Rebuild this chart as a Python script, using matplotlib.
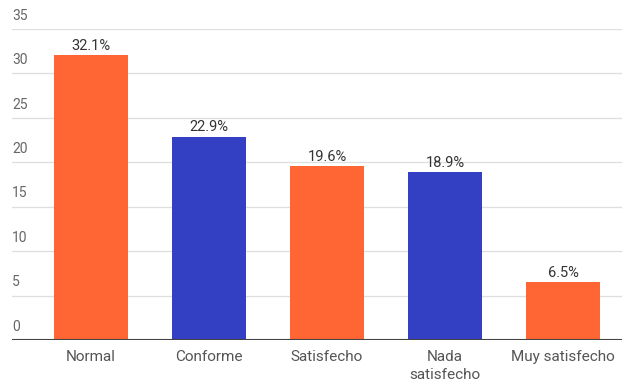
import matplotlib.pyplot as plt
import matplotlib.transforms as mtransforms

plt.rcParams['font.family'] = ['Roboto', 'DejaVu Sans']

categories = ["Normal", "Conforme", "Satisfecho", "Nada\nsatisfecho", "Muy satisfecho"]
values = [32.1, 22.9, 19.6, 18.9, 6.5]
labels = ["32.1%", "22.9%", "19.6%", "18.9%", "6.5%"]
y_ticks = [0, 5, 10, 15, 20, 25, 30, 35]

orange = "#FF6633"
blue = "#3340C4"
colors = [orange, blue, orange, blue, orange]

fig = plt.figure(figsize=(6.22, 3.83), dpi=100)
ax = fig.add_axes([12 / 622, 43 / 383, 610 / 622, 311 / 383])

x = list(range(len(categories)))
bars = ax.bar(x, values, width=0.62, color=colors, zorder=3)

for b, lab in zip(bars, labels):
    ax.text(b.get_x() + b.get_width() / 2, b.get_height() + 0.25, lab,
            ha="center", va="bottom", fontsize=10.5, color="#333333")

ax.set_ylim(0, 35)
ax.set_xlim(-0.67, 4.5)

# gridlines with labels sitting above them on the left
trans = mtransforms.blended_transform_factory(ax.transAxes, ax.transData)
for t in y_ticks:
    if t > 0:
        ax.axhline(t, color="#dedede", lw=0.9, zorder=1)
    ax.text(0.0, t + 0.7, str(t), transform=trans, ha="left", va="bottom",
            fontsize=10, color="#666666")

ax.axhline(0, color="#444444", lw=1.5, zorder=4)

ax.set_yticks([])
ax.set_xticks(x)
ax.set_xticklabels(categories, fontsize=11, color="#555555", linespacing=1.35)
ax.tick_params(axis="x", length=0, pad=7)
for s in ax.spines.values():
    s.set_visible(False)

fig.savefig("out.png", dpi=100)
